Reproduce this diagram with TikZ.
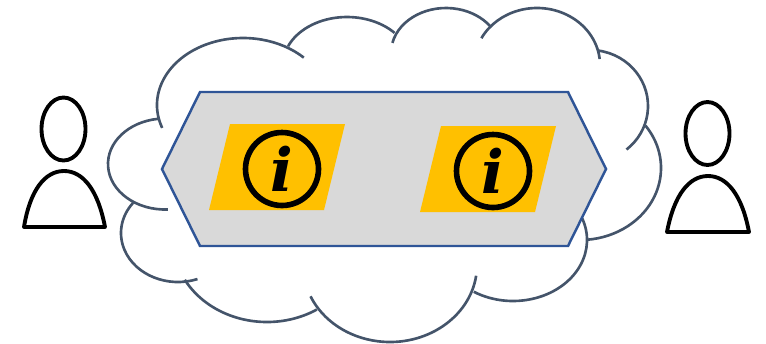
\documentclass[tikz,border=0pt]{standalone}
\usepackage{fontspec}
\newfontfamily\iconfont{DejaVu Serif}
\definecolor{cloudline}{RGB}{68,84,106}
\definecolor{hexblue}{RGB}{47,85,151}
\definecolor{hexgray}{RGB}{217,217,217}
\definecolor{tagamber}{RGB}{255,192,0}
\usetikzlibrary{shapes.geometric}
\tikzset{
  cloudarc/.style={draw=cloudline,line width=1.5pt},
  tagbox/.style={fill=tagamber,draw=none},
  infoicon/.style={circle,draw=black,line width=3.2pt,minimum size=1.46cm,inner sep=0pt,
    font=\fontsize{34}{34}\iconfont\bfseries\itshape},
  headshape/.style={ellipse,draw=black,line width=2.2pt,minimum width=0.88cm,minimum height=1.26cm,inner sep=0pt},
  bodyshape/.style={draw=black,line width=2.2pt,line join=round}
}
\begin{document}
\begin{tikzpicture}[x=0.02cm,y=-0.02cm]
      \useasboundingbox (0,0) rectangle (766,343);
      % cloud outline
      \draw[cloudarc] (243,105) ++(160:86 and 67) arc (160:315:86 and 67);
      \draw[cloudarc] (347,65) ++(203:64 and 48) arc (203:318:64 and 48);
      \draw[cloudarc] (446,53) ++(193:55 and 45) arc (193:323:55 and 45);
      \draw[cloudarc] (537,65) ++(208:63 and 57) arc (208:354:63 and 57);
      \draw[cloudarc] (590,106) ++(278:58 and 56) arc (278:411:58 and 56);
      \draw[cloudarc] (580,168) ++(-36:81 and 72) arc (-36:85:81 and 72);
      \draw[cloudarc] (513,240) ++(-21:74 and 61) arc (-21:122:74 and 61);
      \draw[cloudarc] (390,265) ++(8:87 and 77) arc (8:156:87 and 77);
      \draw[cloudarc] (267,240) ++(58:94 and 82) arc (58:151:94 and 82);
      \draw[cloudarc] (178,233) ++(70:57 and 49) arc (70:218:57 and 49);
      \draw[cloudarc] (165,164) ++(87:57 and 45.5) arc (87:263:57 and 45.5);
      % middle shape
      \draw[fill=hexgray,draw=hexblue,line width=1.4pt]
        (200,92) -- (568,92) -- (606,169) -- (568,246) -- (200,246) -- (162,169) -- cycle;
      \fill[tagbox] (230,124) -- (345,124) -- (324,210) -- (209,210) -- cycle;
      \fill[tagbox] (441,126) -- (556,126) -- (535,212) -- (420,212) -- cycle;
      \node[infoicon] (infoleft) at (282,169) {i};
      \node[infoicon] (inforight) at (493,171) {i};
      % people
      \node[headshape] (headleft) at (63.5,129) {};
      \draw[bodyshape] (24,227) .. controls (30,190) and (45,171) .. (64,171) .. controls (83,171) and (98,190) .. (105,227) -- cycle;
      \node[headshape] (headright) at (707.5,133.5) {};
      \draw[bodyshape] (667,232) .. controls (674,195) and (689,176) .. (708,176) .. controls (727,176) and (742,195) .. (749,232) -- cycle;
    \end{tikzpicture}
\end{document}
